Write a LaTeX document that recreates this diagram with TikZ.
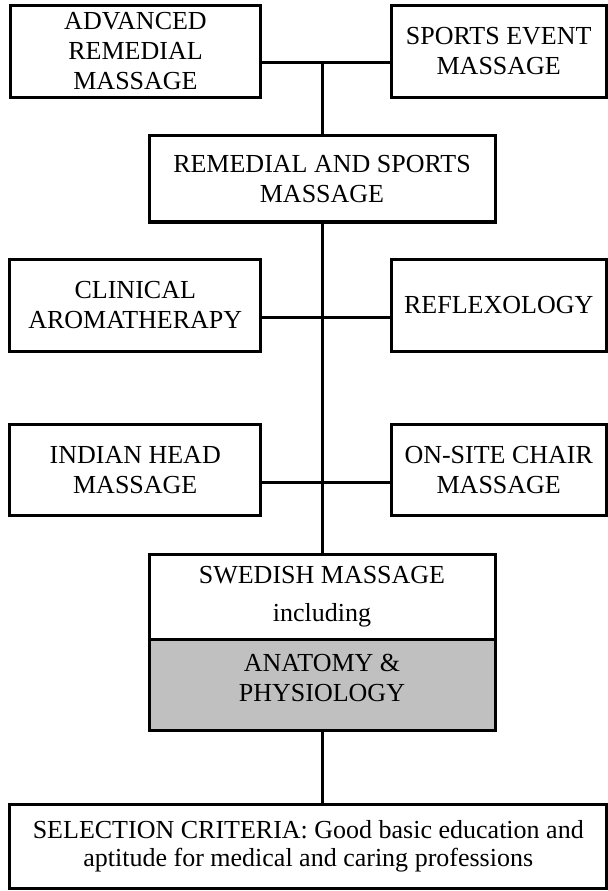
\documentclass[tikz,border=0pt]{standalone}
\usepackage{fontspec}
\setmainfont{Liberation Serif}
\usepackage{tikz}
\definecolor{boxgrey}{RGB}{192,192,192}
\tikzset{
    course/.style={
        draw=black,
        line width=2.25pt,
        align=center,
        inner sep=0pt,
        font=\fontsize{19.5}{22.5}\selectfont
    },
    leftbox/.style={
        course,
        minimum width=188pt,
        minimum height=68.5pt
    },
    rightbox/.style={
        course,
        minimum width=161.6pt,
        minimum height=68.5pt
    },
    midbox/.style={
        course,
        minimum width=259.5pt
    },
    link/.style={
        line width=2.25pt
    }
}

\begin{document}
\begin{tikzpicture}[x=0.75pt, y=-0.75pt]
            % Page :
            \useasboundingbox (0,0) rectangle (607,891);

            % Courses
            \node (advanced) [leftbox] at (135.5,51.5) {ADVANCED\\REMEDIAL\\MASSAGE};
            \node (event) [rightbox] at (498.75,51.5) {SPORTS EVENT\\MASSAGE};
            \node (remedial) [
                midbox,
                minimum height=64.5pt,
            ] at (322,179) {REMEDIAL AND SPORTS\\MASSAGE};
            \node (clinical) [leftbox] at (135.25,305.5) {CLINICAL\\AROMATHERAPY};
            \node (reflexology) [rightbox] at (498.75,305.5) {REFLEXOLOGY};
            \node (indian) [leftbox] at (135.25,470.25) {INDIAN HEAD\\MASSAGE};
            \node (onsite) [rightbox] at (498.75,470.25) {ON-SITE CHAIR\\MASSAGE};
            \node (swedish) [
                midbox,
                minimum height=63.75pt,
            ] at (322,596.5) {SWEDISH MASSAGE\\[5.8pt]including};
            \node (anatomy) [
                midbox,
                fill=boxgrey,
                minimum height=68.25pt,
                text depth=9.75pt,
            ] at (322,684.5) {ANATOMY \&\\PHYSIOLOGY};
            \node (selection) [
                course,
                minimum width=447.4pt,
                minimum height=63pt,
            ] at (308.25,846) {SELECTION CRITERIA: Good basic education and\\[-1.5pt]aptitude for medical and caring professions};

            % Junctions
            \coordinate (top) at (322,63);
            \coordinate (upper) at (322,317);
            \coordinate (lower) at (322,482);

            % Lines
            \path [link]
                (advanced.east |- top) edge (event.west |- top)
                (top) edge (remedial.north)
                (clinical.east |- upper) edge (reflexology.west |- upper)
                (indian.east |- lower) edge (onsite.west |- lower)
                (remedial.south) edge (swedish.north)
                (anatomy.south) edge (anatomy.south |- selection.north)
            ;
\end{tikzpicture}
\end{document}
